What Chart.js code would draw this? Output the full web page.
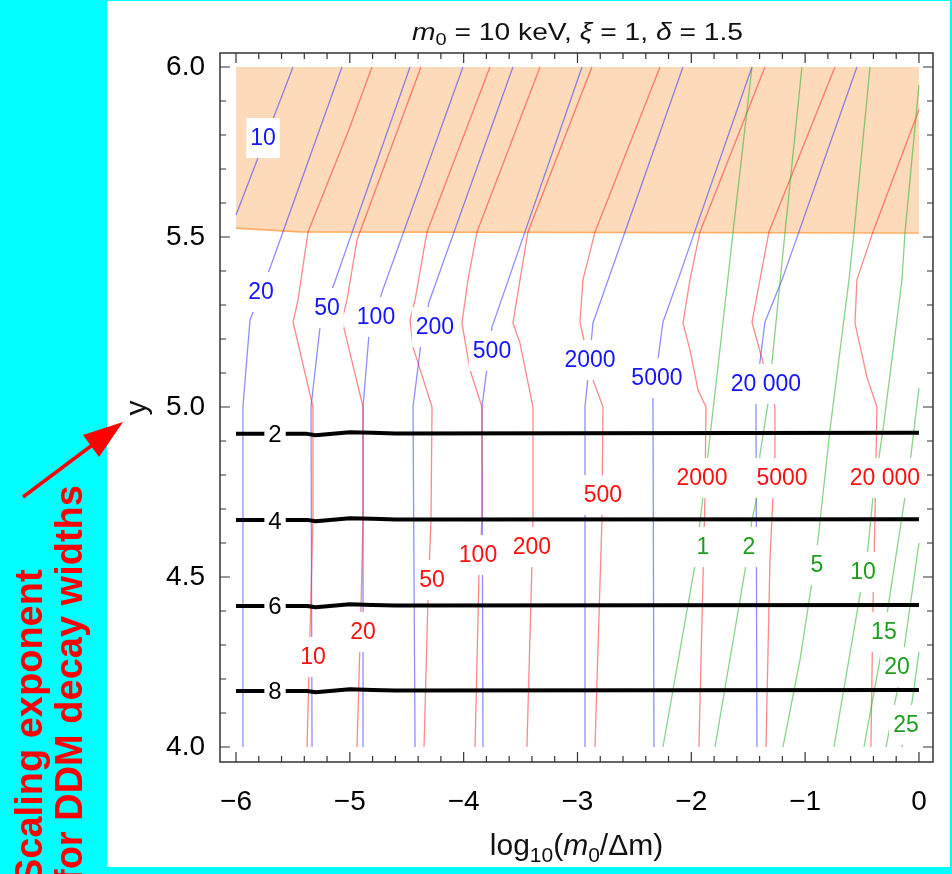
<!DOCTYPE html>
<html>
<head>
<meta charset="utf-8">
<script src="https://cdn.jsdelivr.net/npm/chart.js@4.4.1/dist/chart.umd.min.js"></script>
<style>
  html, body { margin: 0; padding: 0; background: #00ffff; overflow: hidden; }
  canvas { display: block; }
</style>
</head>
<body>
<canvas id="plot" width="952" height="874"></canvas>
<script>
// axis ticks
const xTicks = [-6, -5, -4, -3, -2, -1, 0];
const yTicks = [4.0, 4.5, 5.0, 5.5, 6.0];

// thick black contours
const blackLevels = ['2', '4', '6', '8'];
const blackLines = [
  [[-6, 4.921], [-5.375, 4.921], [-5.30, 4.917], [-5.20, 4.920], [-5.0, 4.926], [-4.8, 4.924], [-4.6, 4.922], [0, 4.924]],
  [[-6, 4.668], [-5.375, 4.668], [-5.30, 4.664], [-5.20, 4.667], [-5.0, 4.673], [-4.8, 4.671], [-4.6, 4.669], [0, 4.670]],
  [[-6, 4.415], [-5.375, 4.415], [-5.30, 4.411], [-5.20, 4.414], [-5.0, 4.420], [-4.8, 4.418], [-4.6, 4.416], [0, 4.418]],
  [[-6, 4.165], [-5.375, 4.165], [-5.30, 4.161], [-5.20, 4.164], [-5.0, 4.170], [-4.8, 4.168], [-4.6, 4.166], [0, 4.168]]
];
const blackLabelAt = [[-5.657, 4.920], [-5.657, 4.665], [-5.657, 4.414], [-5.657, 4.164]];

// blue contours
const blueLevels = ['10', '20', '50', '100', '200', '500', '2000', '5000', '20 000'];
const blueLines = [
  [[-6, 5.565], [-5.499, 6.0]],
  [[-5.939, 4.0], [-5.939, 5.0], [-5.877, 5.256], [-5.701, 5.409], [-5.069, 6.0]],
  [[-5.332, 4.0], [-5.341, 5.0], [-5.262, 5.235], [-5.148, 5.353], [-4.471, 6.0]],
  [[-4.884, 4.0], [-4.884, 5.0], [-4.832, 5.212], [-4.717, 5.338], [-4.006, 6.0]],
  [[-4.427, 4.0], [-4.445, 5.0], [-4.375, 5.188], [-4.304, 5.309], [-3.567, 6.0]],
  [[-3.830, 4.0], [-3.839, 5.0], [-3.795, 5.115], [-3.751, 5.235], [-2.960, 6.0]],
  [[-2.934, 4.0], [-2.934, 5.0], [-2.908, 5.088], [-2.864, 5.247], [-2.073, 6.0]],
  [[-2.328, 4.0], [-2.337, 5.035], [-2.284, 5.162], [-2.249, 5.250], [-2.117, 5.374], [-1.467, 6.0]],
  [[-1.423, 4.0], [-1.432, 5.015], [-1.397, 5.132], [-1.353, 5.250], [-1.203, 5.374], [-0.545, 6.0]]
];
const blueLabelAt = [[-5.763, 5.791], [-5.780, 5.338], [-5.201, 5.291], [-4.770, 5.265], [-4.252, 5.235],
  [-3.751, 5.165], [-2.890, 5.138], [-2.302, 5.085], [-1.344, 5.068]];

// red contours
const redLevels = ['10', '20', '50', '100', '200', '500', '2000', '5000', '20 000'];
const redLines = [
  [[-5.376, 4.0], [-5.350, 4.335], [-5.324, 4.668], [-5.324, 5.0], [-5.499, 5.250], [-5.455, 5.315], [-5.367, 5.515], [-5.016, 5.809], [-4.805, 6.0]],
  [[-4.937, 4.0], [-4.902, 4.409], [-4.884, 4.668], [-4.884, 5.0], [-5.069, 5.256], [-5.025, 5.315], [-4.937, 5.491], [-4.375, 6.0]],
  [[-4.348, 4.0], [-4.313, 4.441], [-4.287, 4.668], [-4.278, 5.0], [-4.445, 5.176], [-4.471, 5.256], [-4.427, 5.315], [-4.322, 5.515], [-3.769, 6.0]],
  [[-3.900, 4.0], [-3.865, 4.512], [-3.839, 4.668], [-3.839, 5.0], [-3.944, 5.109], [-4.015, 5.247], [-3.962, 5.374], [-3.883, 5.515], [-3.329, 6.0]],
  [[-3.444, 4.0], [-3.400, 4.535], [-3.391, 4.668], [-3.391, 5.0], [-3.505, 5.188], [-3.567, 5.247], [-3.505, 5.374], [-3.435, 5.515], [-2.873, 6.0]],
  [[-2.846, 4.0], [-2.785, 4.668], [-2.776, 5.0], [-2.873, 5.088], [-2.978, 5.250], [-2.952, 5.374], [-2.846, 5.515], [-2.275, 6.0]],
  [[-1.933, 4.0], [-1.880, 4.735], [-1.871, 5.0], [-1.941, 5.05], [-2.012, 5.168], [-2.073, 5.247], [-2.012, 5.374], [-1.924, 5.515], [-1.353, 6.0]],
  [[-1.344, 4.0], [-1.309, 4.550], [-1.265, 4.859], [-1.265, 5.0], [-1.335, 5.088], [-1.467, 5.250], [-1.397, 5.374], [-1.318, 5.515], [-0.738, 6.0]],
  [[-0.422, 4.0], [-0.404, 4.409], [-0.387, 4.668], [-0.369, 5.0], [-0.457, 5.088], [-0.562, 5.247], [-0.545, 5.374], [-0.404, 5.515], [0, 5.874]]
];
const redLabelAt = [[-5.324, 4.265], [-4.884, 4.338], [-4.278, 4.491], [-3.874, 4.565], [-3.400, 4.588],
  [-2.776, 4.741], [-1.906, 4.791], [-1.203, 4.791], [-0.299, 4.791]];

// green contours
const greenLevels = ['1', '2', '5', '10', '15', '20', '25'];
const greenLines = [
  [[-2.249, 4.0], [-1.968, 4.535], [-1.924, 4.662], [-1.854, 4.859], [-1.739, 5.197], [-1.634, 5.512], [-1.467, 6.0]],
  [[-1.792, 4.0], [-1.520, 4.535], [-1.467, 4.668], [-1.423, 4.735], [-1.397, 4.859], [-1.326, 5.012], [-1.291, 5.132], [-1.177, 5.512], [-1.028, 6.0]],
  [[-1.195, 4.0], [-1.045, 4.256], [-0.940, 4.485], [-0.887, 4.609], [-0.782, 4.932], [-0.615, 5.374], [-0.571, 5.512], [-0.430, 6.0]],
  [[-0.747, 4.0], [-0.509, 4.465], [-0.448, 4.585], [-0.404, 4.735], [-0.316, 4.932], [-0.149, 5.374], [-0.123, 5.512], [0, 5.947]],
  [[-0.483, 4.0], [-0.343, 4.256], [-0.272, 4.409], [-0.123, 4.735], [-0.070, 4.859], [0, 5.056]],
  [[-0.290, 4.0], [-0.211, 4.132], [-0.176, 4.188], [-0.123, 4.306], [0, 4.600]],
  [[-0.149, 4.0], [-0.061, 4.132], [0, 4.279]]
];
const greenLabelAt = [[-1.898, 4.588], [-1.493, 4.588], [-0.896, 4.535], [-0.492, 4.515], [-0.308, 4.338],
  [-0.193, 4.235], [-0.114, 4.065]];

// shaded (excluded) region, filled up to y = 6
const shadeBottom = [[-6, 5.526], [-5.44, 5.515], [0, 5.512]];
const shadeTop = 6.0;

const FONT = '"Liberation Sans", Arial, sans-serif';

function lineSet(pts, color, width) {
  return {
    data: pts.map(([x, y]) => ({ x, y })),
    borderColor: color,
    borderWidth: width,
    pointRadius: 0,
    fill: false,
    tension: 0,
    borderJoinStyle: 'round'
  };
}

const datasets = [
  ...blackLines.map(p => lineSet(p, '#000000', 4)),
  ...greenLines.map(p => lineSet(p, 'rgba(40,175,40,0.55)', 1.3)),
  ...redLines.map(p => lineSet(p, 'rgba(255,40,40,0.55)', 1.3)),
  ...blueLines.map(p => lineSet(p, 'rgba(50,50,255,0.55)', 1.3)),
  {
    data: shadeBottom.map(([x, y]) => ({ x, y })),
    borderColor: 'rgb(255,175,100)',
    borderWidth: 1.6,
    backgroundColor: 'rgb(253,218,185)',
    fill: { value: shadeTop },
    pointRadius: 0
  }
];

// draws mixed italic / subscript text centred on cx, stretched to a target width when given
function richText(ctx, parts, size, cx, base, targetWidth) {
  const fontFor = p => `${p.it ? 'italic ' : ''}${p.sub ? Math.round(size * 0.7) : size}px ${FONT}`;
  let total = 0;
  parts.forEach(p => { ctx.font = fontFor(p); total += ctx.measureText(p.t).width; });
  const sx = targetWidth ? targetWidth / total : 1;
  ctx.save();
  ctx.translate(cx - (total * sx) / 2, base);
  ctx.scale(sx, 1);
  ctx.textAlign = 'left';
  ctx.textBaseline = 'alphabetic';
  let xPos = 0;
  parts.forEach(p => {
    ctx.font = fontFor(p);
    ctx.fillText(p.t, xPos, p.sub ? size * 0.22 : 0);
    xPos += ctx.measureText(p.t).width;
  });
  ctx.restore();
}

function contourLabels(chart, groups) {
  const { ctx, scales: { x, y } } = chart;
  ctx.save();
  ctx.textAlign = 'center';
  ctx.textBaseline = 'middle';
  // white boxes first, text afterwards
  groups.forEach(([levels, spots, color, size]) => {
    ctx.font = `${size}px ${FONT}`;
    levels.forEach((txt, i) => {
      const px = x.getPixelForValue(spots[i][0]);
      const py = y.getPixelForValue(spots[i][1]);
      const w = ctx.measureText(txt).width + 8;
      ctx.fillStyle = '#ffffff';
      ctx.fillRect(px - w / 2, py - 20, w, 40);
    });
  });
  groups.forEach(([levels, spots, color, size]) => {
    ctx.font = `${size}px ${FONT}`;
    ctx.fillStyle = color;
    levels.forEach((txt, i) => {
      ctx.fillText(txt, x.getPixelForValue(spots[i][0]), y.getPixelForValue(spots[i][1]) + 1);
    });
  });
  ctx.restore();
}

const decor = {
  id: 'decor',
  beforeDraw(chart) {
    const { ctx, width, height } = chart;
    ctx.save();
    ctx.fillStyle = '#00ffff';
    ctx.fillRect(0, 0, width, height);
    ctx.fillStyle = '#ffffff';
    ctx.fillRect(107, 1, 843, 866);
    ctx.restore();
  },
  afterDatasetsDraw(chart) {
    contourLabels(chart, [
      [blueLevels, blueLabelAt, '#1414ff', 23],
      [redLevels, redLabelAt, '#ff1010', 23],
      [greenLevels, greenLabelAt, '#1e9e1e', 23],
      [blackLevels, blackLabelAt, '#000000', 24]
    ]);
  },
  afterDraw(chart) {
    const { ctx, chartArea: a, scales: { x, y } } = chart;
    ctx.save();
    // frame
    ctx.strokeStyle = '#333333';
    ctx.lineWidth = 1.5;
    ctx.strokeRect(a.left, a.top, a.right - a.left, a.bottom - a.top);
    // inward ticks on all four sides
    ctx.lineWidth = 1.2;
    ctx.beginPath();
    for (let i = -30; i <= 0; i++) {
      const px = x.getPixelForValue(i / 5);
      const len = i % 5 === 0 ? 10 : 6;
      ctx.moveTo(px, a.bottom); ctx.lineTo(px, a.bottom - len);
      ctx.moveTo(px, a.top); ctx.lineTo(px, a.top + len);
    }
    for (let i = 40; i <= 60; i++) {
      const py = y.getPixelForValue(i / 10);
      const len = i % 5 === 0 ? 10 : 6;
      ctx.moveTo(a.left, py); ctx.lineTo(a.left + len, py);
      ctx.moveTo(a.right, py); ctx.lineTo(a.right - len, py);
    }
    ctx.stroke();

    // plot title and axis titles
    const cx = (a.left + a.right) / 2;
    ctx.fillStyle = '#111111';
    richText(ctx, [{ t: 'm', it: 1 }, { t: '0', sub: 1 }, { t: ' = 10 keV, ' }, { t: 'ξ', it: 1 },
      { t: ' = 1, ' }, { t: 'δ', it: 1 }, { t: ' = 1.5' }], 24, cx + 1, 40, 331);
    richText(ctx, [{ t: 'log' }, { t: '10', sub: 1 }, { t: '(' }, { t: 'm', it: 1 }, { t: '0', sub: 1 },
      { t: '/Δm)' }], 30, cx, 855);
    ctx.save();
    ctx.translate(146, 408);
    ctx.rotate(-Math.PI / 2);
    ctx.font = `30px ${FONT}`;
    ctx.textAlign = 'center';
    ctx.textBaseline = 'alphabetic';
    ctx.fillText('y', 0, 0);
    ctx.restore();

    // red annotation on the cyan margin
    ctx.strokeStyle = '#ff0000';
    ctx.fillStyle = '#ff0000';
    ctx.lineWidth = 3.5;
    ctx.beginPath();
    ctx.moveTo(23, 497);
    ctx.lineTo(95, 443);
    ctx.stroke();
    ctx.beginPath();
    ctx.moveTo(123, 422);
    ctx.lineTo(99, 457);
    ctx.lineTo(83, 435);
    ctx.closePath();
    ctx.fill();
    ctx.font = `bold 38px ${FONT}`;
    ctx.textAlign = 'left';
    ctx.textBaseline = 'alphabetic';
    ctx.save();
    ctx.translate(42, 884);
    ctx.rotate(-Math.PI / 2);
    ctx.fillText('Scaling exponent', 0, 0);
    ctx.restore();
    ctx.save();
    ctx.translate(82, 882);
    ctx.rotate(-Math.PI / 2);
    ctx.fillText('for DDM decay widths', 0, 0);
    ctx.restore();
    ctx.restore();
  }
};

new Chart(document.getElementById('plot'), {
  type: 'line',
  data: { datasets },
  options: {
    responsive: false,
    animation: false,
    devicePixelRatio: 1,
    layout: { padding: { top: 53, right: 19, left: 0, bottom: 0 } },
    plugins: { legend: { display: false }, tooltip: { enabled: false } },
    scales: {
      x: {
        type: 'linear',
        min: -6.1406,
        max: 0.1234,
        afterFit(s) { s.height = 112; },
        afterBuildTicks(s) { s.ticks = xTicks.map(v => ({ value: v })); },
        grid: { display: false },
        border: { display: false },
        ticks: {
          color: '#000000',
          font: { family: FONT, size: 28 },
          padding: 15,
          maxRotation: 0,
          autoSkip: false,
          callback: v => (v < 0 ? '\u2212' + Math.abs(v) : String(v))
        }
      },
      y: {
        type: 'linear',
        min: 3.9559,
        max: 6.0412,
        afterFit(s) { s.width = 220; },
        afterBuildTicks(s) { s.ticks = yTicks.map(v => ({ value: v })); },
        grid: { display: false },
        border: { display: false },
        ticks: {
          color: '#000000',
          font: { family: FONT, size: 28 },
          padding: 7,
          autoSkip: false,
          callback: v => Number(v).toFixed(1)
        }
      }
    }
  },
  plugins: [decor]
});
</script>
</body>
</html>
